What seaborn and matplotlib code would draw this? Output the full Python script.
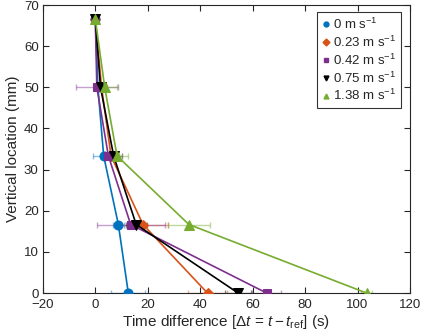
import pandas as pd
import matplotlib
matplotlib.use("Agg")
import matplotlib.pyplot as plt
import seaborn as sns
from matplotlib.lines import Line2D

sns.set_style("ticks")
plt.rcParams['font.family'] = ['Liberation Sans', 'DejaVu Sans']
plt.rcParams['mathtext.fontset'] = 'custom'
plt.rcParams['mathtext.rm'] = 'Liberation Sans'
plt.rcParams['mathtext.it'] = 'Liberation Sans:italic'

altura = [0, 16.67, 33.33, 50, 66.67]
velocidades = ["0", "0.23", "0.42", "0.75", "1.38"]

t_0 = [12.6, 8.8, 3.2, 1.0, 0.0]
t_023 = [42.8, 18.2, 6.0, 2.4, 0.0]
t_042 = [65.4, 13.5, 5.0, 0.6, 0.0]
t_075 = [54.5, 15.6, 7.0, 2.0, 0.0]
t_138 = [103.5, 35.7, 8.3, 3.6, 0.0]

err_0 = [6.5, 2.0, 4.0, 1.5, 0.3]
err_023 = [7.5, 9.5, 3.0, 2.0, 0.3]
err_042 = [5.5, 13.0, 3.0, 8.0, 0.3]
err_075 = [5.0, 4.0, 3.0, 2.0, 0.3]
err_138 = [2.0, 8.0, 4.0, 4.5, 0.3]

cores = ["#0072BD", "#D95319", "#7E2F8E", "#000000", "#77AC30"]
marcadores = ["o", "D", "s", "v", "^"]
tamanhos = [6.5, 5.5, 5.5, 6.5, 6.5]

tempos = [t_0, t_023, t_042, t_075, t_138]
erros = [err_0, err_023, err_042, err_075, err_138]

tabela = pd.DataFrame()
for v, t in zip(velocidades, tempos):
    parte = pd.DataFrame({"tempo": t, "altura": altura, "vel": v})
    tabela = pd.concat([tabela, parte], ignore_index=True)

fig = plt.figure(figsize=(4.24, 3.35), dpi=100)
ax = fig.add_axes([0.101, 0.125, 0.866, 0.860])

# barras de erro (mais claras)
for t, e, c in zip(tempos, erros, cores):
    ax.errorbar(t, altura, xerr=e, fmt="none", ecolor=c, alpha=0.45,
                elinewidth=1.0, capsize=2.5, capthick=1.0, zorder=1)

for i, v in enumerate(velocidades):
    dados = tabela[tabela["vel"] == v]
    sns.lineplot(data=dados, x="tempo", y="altura", sort=False, estimator=None,
                 color=cores[i], marker=marcadores[i], markersize=tamanhos[i],
                 markeredgecolor=cores[i], linewidth=1.2, ax=ax, zorder=3)

ax.set_xlim(-20, 120)
ax.set_ylim(0, 70)
ax.set_xticks(range(-20, 121, 20))
ax.set_yticks(range(0, 71, 10))
ax.tick_params(direction="in", top=True, right=True, labelsize=9.5, length=4)
ax.tick_params(axis="x", pad=4.5)
ax.tick_params(axis="y", pad=3)
for s in ax.spines.values():
    s.set_linewidth(0.8)

ax.set_xlabel(r"Time difference [$\Delta\mathit{t}$ = $\mathit{t}-\mathit{t}_{\rm ref}$] (s)",
              fontsize=11, labelpad=1)
ax.set_ylabel("Vertical location (mm)", fontsize=11, labelpad=3)

handles = [Line2D([], [], linestyle="None", marker=m, color=c, markersize=3.5)
           for m, c in zip(marcadores, cores)]
labels = [v + r" m s$^{-1}$" for v in velocidades]
leg = ax.legend(handles, labels, loc="upper right", fontsize=9.5, frameon=True,
                fancybox=False, edgecolor="black", handletextpad=0.1,
                handlelength=0.8, borderpad=0.35, labelspacing=0.2,
                borderaxespad=0, bbox_to_anchor=(0.975, 0.975))
leg.get_frame().set_linewidth(0.8)

plt.savefig("out.png", dpi=100)
